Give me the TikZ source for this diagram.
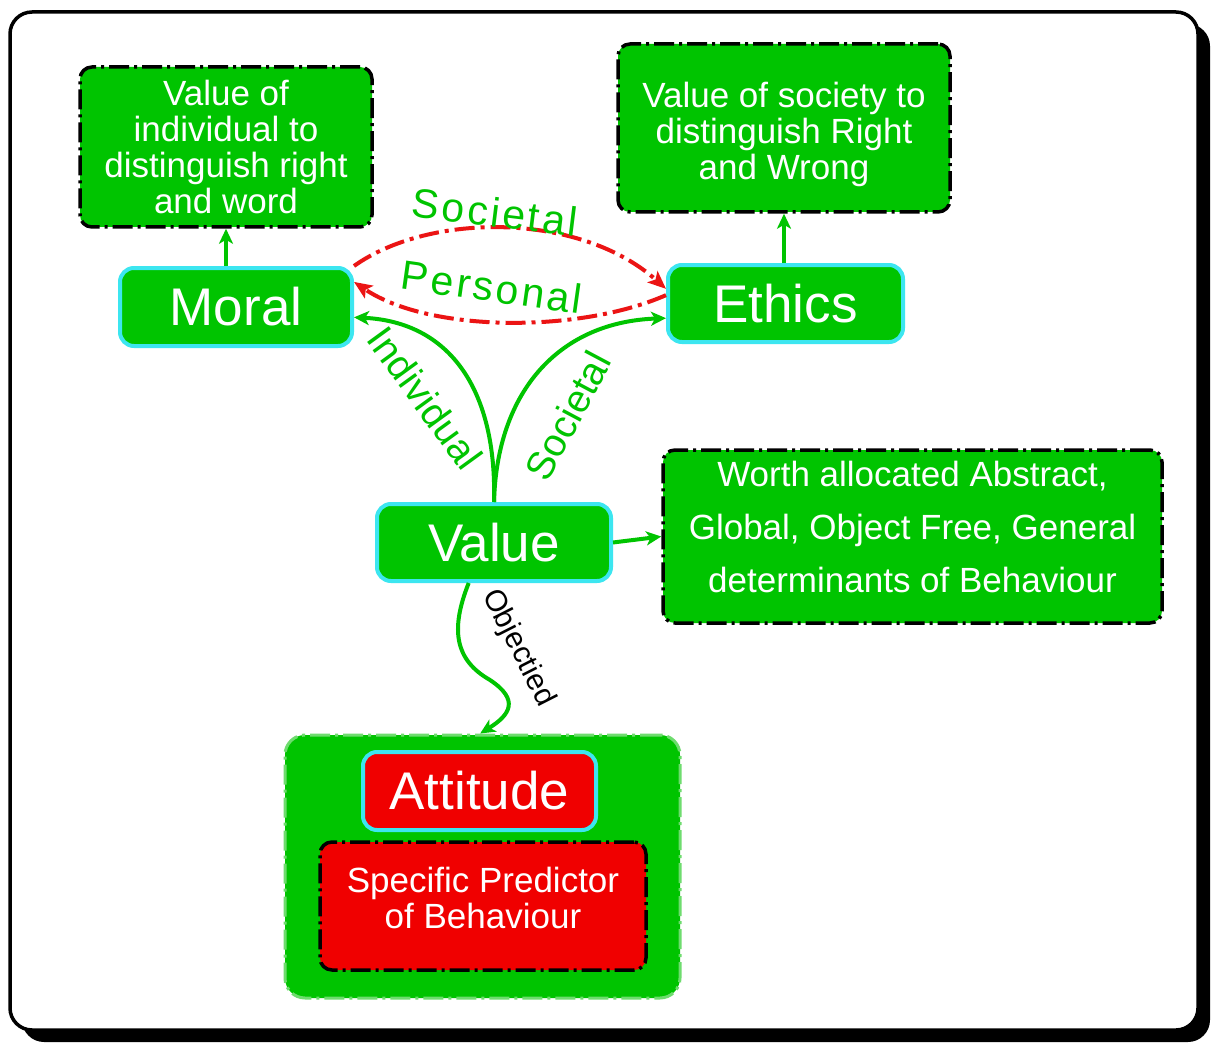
\documentclass[tikz,border=0pt]{standalone}
\usepackage{fontspec}
\setmainfont{Liberation Sans}
\newfontfamily\lblfont[LetterSpace=7]{Liberation Sans}
\usetikzlibrary{arrows.meta}
\definecolor{gfill}{RGB}{0,196,0}
\definecolor{rfill}{RGB}{240,0,0}
\definecolor{cyanb}{RGB}{60,230,240}
\definecolor{redline}{RGB}{235,20,20}
\definecolor{lgreen}{RGB}{110,220,110}
\tikzset{
  dashdot/.style={dash pattern=on 20pt off 5pt on 3pt off 5pt},
  infobox/.style={draw=black, line width=3.5pt, dashdot, fill=gfill, rounded corners=12pt,
    text=white, align=center, font=\fontsize{35}{36}\selectfont, inner sep=0pt},
  keynode/.style={draw=cyanb, line width=4pt, fill=gfill, rounded corners=14pt,
    text=white, font=\fontsize{53}{60}\selectfont, inner sep=0pt},
  garrow/.style={draw=gfill, line width=4pt, -{Stealth[length=15pt,width=14pt,inset=4pt]}},
  rarrow/.style={draw=redline, line width=4pt, dash pattern=on 20pt off 6pt on 4pt off 6pt,
    -{Stealth[length=18pt,width=15pt,inset=4pt]}},
  toplabel/.style={text=gfill, font=\lblfont\fontsize{41}{44}\selectfont, inner sep=0pt},
  sidelabel/.style={text=gfill, font=\fontsize{39}{42}\selectfont, inner sep=0pt},
}
\begin{document}
\begin{tikzpicture}[x=1pt,y=-1pt]
\useasboundingbox (0,0) rectangle (1213,1043);
\fill[white] (0,0) rectangle (1213,1043);
% frame with shadow
\fill[black, rounded corners=22pt] (22,24) rectangle (1210,1042);
\draw[black, fill=white, line width=3.5pt, rounded corners=22pt] (10,12) rectangle (1198,1030);

% nodes
\node[infobox, minimum width=292pt, minimum height=160pt] (boxA) at (226,147)
  {Value of\\individual to\\distinguish right\\and word};
\node[infobox, minimum width=332pt, minimum height=168pt] (boxB) at (784,128)
  {Value of society to\\distinguish Right\\and Wrong\\[-42pt]};
\node[keynode, minimum width=232pt, minimum height=78pt] (Moral) at (236,307) {Moral};
\node[keynode, minimum width=235pt, minimum height=77pt] (Ethics) at (785.5,303.5) {Ethics};
\node[keynode, minimum width=234pt, minimum height=77pt] (Value) at (494,542.5) {Value};
\node[infobox, minimum width=499pt, minimum height=173pt, font=\fontsize{35}{53}\selectfont] (Worth) at (912.5,536.5)
  {Worth allocated Abstract,\\Global, Object Free, General\\determinants of Behaviour\\[-33pt]};
\node[draw=lgreen, fill=gfill, line width=3pt, dashdot, rounded corners=20pt,
  minimum width=395pt, minimum height=263pt] (Group) at (482.5,866.5) {};
\node[keynode, fill=rfill, minimum width=233pt, minimum height=78pt] (Attitude) at (479.5,791) {Attitude};
\node[infobox, fill=rfill, minimum width=326pt, minimum height=128pt] (Spec) at (483,906)
  {Specific Predictor\\of Behaviour\\[-20pt]};

% connectors
\draw[garrow] (Moral.north -| boxA.south) -- (boxA.south);
\draw[garrow] (Ethics.north -| boxB.south) -- (boxB.south);
\draw[garrow] (Value.east) -- (Worth.west);
\draw[rarrow] (Moral.north east) .. controls (430,212) and (580,212) .. (Ethics.173);
\draw[rarrow] (Ethics.176) .. controls (580,333) and (430,333) .. (Moral.12);
\draw[garrow] (Value.north) .. controls (497,390) and (450,322) .. (Moral.-5);
\draw[garrow] (Value.north) .. controls (497,390) and (560,322) .. (Ethics.187);
\draw[garrow] (Value.-122) .. controls (450,630) and (455,660) .. (490,680)
  .. controls (520,700) and (510,715) .. (Group.91);

% labels
\node[toplabel, rotate=-7] (lSoc1) at (495,212) {Societal};
\node[toplabel, rotate=-8] (lPers) at (492,287) {Personal};
\node[sidelabel, rotate=-54] (lInd) at (425,398) {Individual};
\node[sidelabel, rotate=62] (lSoc2) at (568,416) {Societal};
\node[text=black, font=\fontsize{30}{32}\selectfont, inner sep=0pt, rotate=-63] (lObj) at (518,648) {Objectied};
\end{tikzpicture}
\end{document}
